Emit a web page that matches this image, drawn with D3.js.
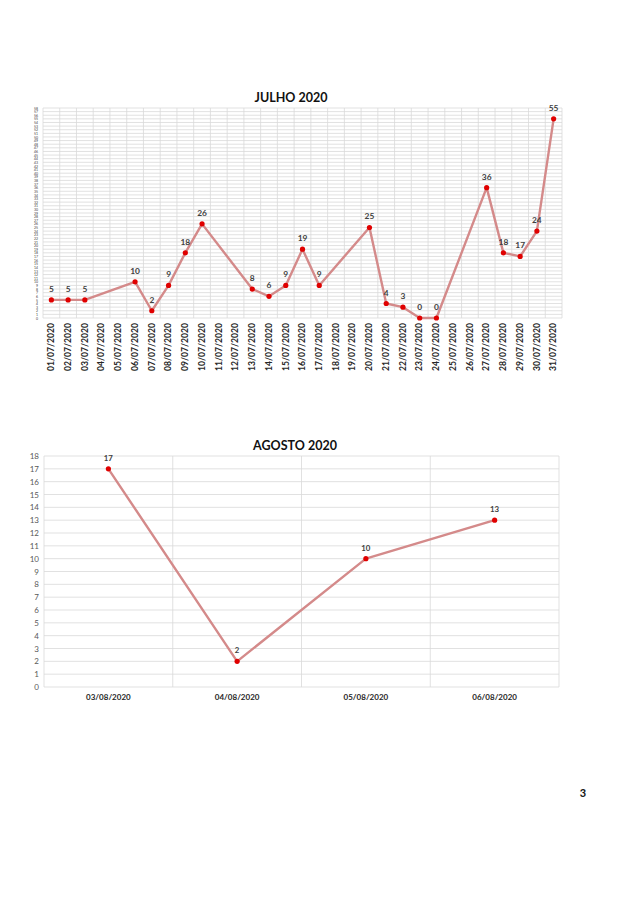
<!DOCTYPE html>
<html>
<head>
<meta charset="utf-8">
<script src="https://cdn.jsdelivr.net/npm/d3@7"></script>
<style>
  body { margin: 0; background: white; }
  text { font-family: Lato, "Open Sans", sans-serif; }
</style>
</head>
<body>
<div id="container"></div>
<script>
// julho: every day of the month, null where no value was plotted
let julDates = d3.range(1, 32).map(d => String(d).padStart(2, "0") + "/07/2020")
let julValues = [5, 5, 5, null, null, 10, 2, 9, 18, 26, null, null, 8, 6, 9, 19, 9, null, null, 25, 4, 3, 0, 0, null, null, 36, 18, 17, 24, 55]
let julTicks = d3.range(0, 59)

let agoDates = ["03/08/2020", "04/08/2020", "05/08/2020", "06/08/2020"]
let agoValues = [17, 2, 10, 13]
let agoTicks = d3.range(0, 19)

let viz = d3.select("#container").append("svg")
    .attr("width", 640)
    .attr("height", 906)
    .style("background-color", "white")

drawChart({
    dates: julDates, values: julValues, ticks: julTicks, yMax: 58,
    left: 43, right: 562, top: 108, bottom: 318,
    title: "JULHO 2020", titleX: 291, titleY: 102,
    rotate: true, tickFont: 3.5, tickColor: "#404040", labelFont: 8.4, dateFont: 8.6
})

drawChart({
    dates: agoDates, values: agoValues, ticks: agoTicks, yMax: 18,
    left: 44, right: 559, top: 456, bottom: 687,
    title: "AGOSTO 2020", titleX: 295, titleY: 450,
    rotate: false, tickFont: 8, tickColor: "#595959", labelFont: 7.8, dateFont: 8
})

viz.append("text")
    .attr("x", 583)
    .attr("y", 797)
    .attr("text-anchor", "middle")
    .attr("font-size", 11)
    .attr("font-weight", "bold")
    .attr("fill", "#111")
    .text("3")

function drawChart(c) {
    let g = viz.append("g")

    let x = d3.scaleBand().domain(c.dates).range([c.left, c.right])
    let y = d3.scaleLinear().domain([0, c.yMax]).range([c.bottom, c.top])

    // horizontal grid
    g.selectAll(".hgrid").data(c.ticks).enter().append("line")
        .attr("x1", c.left).attr("x2", c.right)
        .attr("y1", d => y(d)).attr("y2", d => y(d))
        .attr("stroke", "#d9d9d9")
        .attr("stroke-width", 0.8)

    // vertical grid at category borders
    let borders = c.dates.map(d => x(d)).concat([c.right])
    g.selectAll(".vgrid").data(borders).enter().append("line")
        .attr("x1", d => d).attr("x2", d => d)
        .attr("y1", c.top).attr("y2", c.bottom)
        .attr("stroke", "#d9d9d9")
        .attr("stroke-width", 0.8)

    // y axis labels
    let yAxis = d3.axisLeft(y).tickValues(c.ticks).tickSize(0).tickPadding(0)
    let ya = g.append("g")
        .attr("transform", "translate(" + (c.left - 5) + ",0)")
        .call(yAxis)
    ya.select(".domain").remove()
    ya.selectAll("text")
        .attr("font-size", c.tickFont)
        .attr("fill", c.tickColor)
        .style("font-family", "Lato, sans-serif")

    // x axis labels
    let xAxis = d3.axisBottom(x).tickSize(0).tickPadding(0)
    let xa = g.append("g")
        .attr("transform", "translate(0," + c.bottom + ")")
        .call(xAxis)
    xa.select(".domain").remove()
    let xt = xa.selectAll("text")
        .attr("font-size", c.dateFont)
        .attr("font-weight", "bold")
        .attr("fill", "#262626")
        .style("font-family", "Lato, sans-serif")
    if (c.rotate) {
        xt.attr("transform", "rotate(-90)")
            .attr("text-anchor", "end")
            .attr("x", -5)
            .attr("y", 0)
            .attr("dy", "0.32em")
    } else {
        xt.attr("y", 7).attr("dy", "0.71em")
    }

    let pts = c.dates.map((d, i) => ({date: d, value: c.values[i]})).filter(d => d.value !== null)
    let cx = d => x(d.date) + x.bandwidth() / 2

    let line = d3.line().x(cx).y(d => y(d.value))
    g.append("path")
        .datum(pts)
        .attr("d", line)
        .attr("fill", "none")
        .attr("stroke", "#d48a8a")
        .attr("stroke-width", 2.4)
        .attr("stroke-linejoin", "round")

    g.selectAll(".dot").data(pts).enter().append("circle")
        .attr("cx", cx)
        .attr("cy", d => y(d.value))
        .attr("r", 2.6)
        .attr("fill", "#e00000")

    g.selectAll(".lbl").data(pts).enter().append("text")
        .attr("x", cx)
        .attr("y", d => y(d.value) - 8)
        .attr("text-anchor", "middle")
        .attr("font-size", c.labelFont)
        .attr("font-weight", "bold")
        .attr("fill", "#404040")
        .text(d => d.value)

    g.append("text")
        .attr("x", c.titleX)
        .attr("y", c.titleY)
        .attr("text-anchor", "middle")
        .attr("font-size", 12.5)
        .attr("font-weight", "bold")
        .attr("fill", "#111")
        .text(c.title)
}
</script>
</body>
</html>
